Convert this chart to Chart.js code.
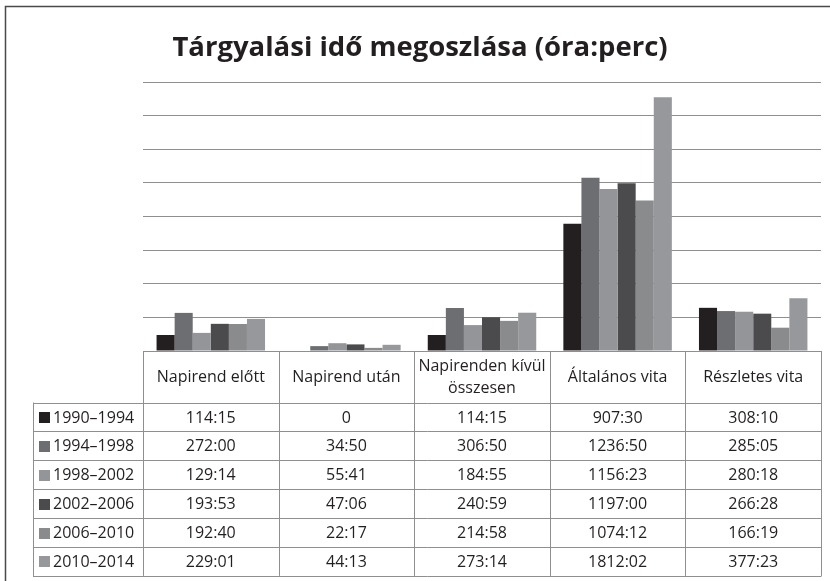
<!DOCTYPE html>
<html>
<head>
<meta charset="utf-8">
<script src="https://cdn.jsdelivr.net/npm/chart.js@4"></script>
<style>
  html, body { margin: 0; padding: 0; background: #fff; }
  #wrap { width: 830px; height: 581px; }
</style>
</head>
<body>
<div id="wrap"><canvas id="idoChart" width="830" height="581"></canvas></div>
<script>
// Categories and periods
const categories = ['Napirend előtt', 'Napirend után', 'Napirenden kívül összesen', 'Általános vita', 'Részletes vita'];
const headerLines = [['Napirend előtt'], ['Napirend után'], ['Napirenden kívül', 'összesen'], ['Általános vita'], ['Részletes vita']];
const periods = ['1990–1994', '1994–1998', '1998–2002', '2002–2006', '2006–2010', '2010–2014'];
const colors = ['#231f20', '#6d6e71', '#949598', '#4b4b4d', '#8a8b8d', '#97989b'];

// Values as shown in the table (óra:perc)
const v1990 = ['114:15', '0', '114:15', '907:30', '308:10'];
const v1994 = ['272:00', '34:50', '306:50', '1236:50', '285:05'];
const v1998 = ['129:14', '55:41', '184:55', '1156:23', '280:18'];
const v2002 = ['193:53', '47:06', '240:59', '1197:00', '266:28'];
const v2006 = ['192:40', '22:17', '214:58', '1074:12', '166:19'];
const v2010 = ['229:01', '44:13', '273:14', '1812:02', '377:23'];
const tableRows = [v1990, v1994, v1998, v2002, v2006, v2010];

// Axis: 240 hours per gridline (10 days)
const yMax = 1920;
const yStep = 240;

function toHours(s) {
    const parts = s.split(':');
    if (parts.length < 2) return Number(parts[0]);
    return Number(parts[0]) + Number(parts[1]) / 60;
}

const FONT = '"Open Sans", "DejaVu Sans", sans-serif';
const TEXT = '#231f20';
const LINE = '#8f8f8f';

// Title, frame and the data table under the plot
const tablePlugin = {
    id: 'dataTable',
    afterDraw(chart) {
        const ctx = chart.ctx;
        const area = chart.chartArea;
        const x = chart.scales.x;
        const half = (x.getPixelForValue(1) - x.getPixelForValue(0)) / 2;
        const headerH = 51;
        const rowH = 28.9;
        const legendLeft = 33;
        const top = Math.round(area.bottom) + 0.5;
        const rowTop = top + headerH;
        const bottom = rowTop + rowH * periods.length;

        ctx.save();

        // outer frame
        ctx.strokeStyle = '#4a4a4a';
        ctx.lineWidth = 1.5;
        ctx.beginPath();
        ctx.moveTo(5.5, 581);
        ctx.lineTo(5.5, 6.5);
        ctx.lineTo(830, 6.5);
        ctx.stroke();

        // title
        ctx.fillStyle = TEXT;
        ctx.font = 'bold 27.5px ' + FONT;
        ctx.textAlign = 'center';
        ctx.textBaseline = 'alphabetic';
        ctx.fillText('Tárgyalási idő megoszlása (óra:perc)', 420, 56);

        // table lines
        ctx.strokeStyle = LINE;
        ctx.lineWidth = 1;
        ctx.beginPath();
        const colEdges = categories.map((c, i) => Math.round(x.getPixelForValue(i) - half) + 0.5);
        colEdges.push(Math.round(x.getPixelForValue(categories.length - 1) + half) + 0.5);
        colEdges.forEach(cx => {
            ctx.moveTo(cx, top);
            ctx.lineTo(cx, bottom);
        });
        ctx.moveTo(legendLeft + 0.5, rowTop);
        ctx.lineTo(legendLeft + 0.5, bottom);
        ctx.moveTo(colEdges[0], top);
        ctx.lineTo(colEdges[colEdges.length - 1], top);
        for (let r = 0; r <= periods.length; r++) {
            const ry = Math.round(rowTop + r * rowH) + 0.5;
            ctx.moveTo(legendLeft, ry);
            ctx.lineTo(colEdges[colEdges.length - 1], ry);
        }
        ctx.stroke();

        // header texts
        ctx.font = '16px ' + FONT;
        ctx.textBaseline = 'middle';
        ctx.textAlign = 'center';
        headerLines.forEach((lines, i) => {
            const cx = x.getPixelForValue(i);
            const mid = top + headerH / 2;
            lines.forEach((ln, k) => {
                ctx.fillText(ln, cx, mid + (k - (lines.length - 1) / 2) * 22);
            });
        });

        // rows: legend key + values
        periods.forEach((p, r) => {
            const cy = rowTop + r * rowH + rowH / 2;
            ctx.fillStyle = colors[r];
            ctx.fillRect(39, Math.round(cy - 5), 11, 11);
            ctx.fillStyle = TEXT;
            ctx.textAlign = 'left';
            ctx.fillText(p, 53, cy + 1);
            ctx.textAlign = 'center';
            tableRows[r].forEach((val, i) => {
                ctx.fillText(val, x.getPixelForValue(i), cy + 1);
            });
        });

        ctx.restore();
    }
};

const datasets = periods.map((p, i) => ({
    label: p,
    data: tableRows[i].map(toHours),
    backgroundColor: colors[i],
    borderWidth: 0,
    categoryPercentage: 0.8,
    barPercentage: 1.0
}));

new Chart(document.getElementById('idoChart'), {
    type: 'bar',
    data: {
        labels: categories,
        datasets: datasets
    },
    options: {
        responsive: false,
        animation: false,
        layout: {
            padding: { left: 143, right: 9, top: 82, bottom: 230 }
        },
        plugins: {
            legend: { display: false },
            title: { display: false },
            tooltip: { enabled: false }
        },
        scales: {
            x: {
                ticks: { display: false },
                grid: { display: false },
                border: { display: true, color: LINE, width: 1 },
                afterFit(scale) { scale.height = 0; }
            },
            y: {
                min: 0,
                max: yMax,
                ticks: { display: false, stepSize: yStep },
                grid: { color: LINE, lineWidth: 1, drawTicks: false },
                border: { display: false },
                afterFit(scale) { scale.width = 0; }
            }
        }
    },
    plugins: [tablePlugin]
});
</script>
</body>
</html>
